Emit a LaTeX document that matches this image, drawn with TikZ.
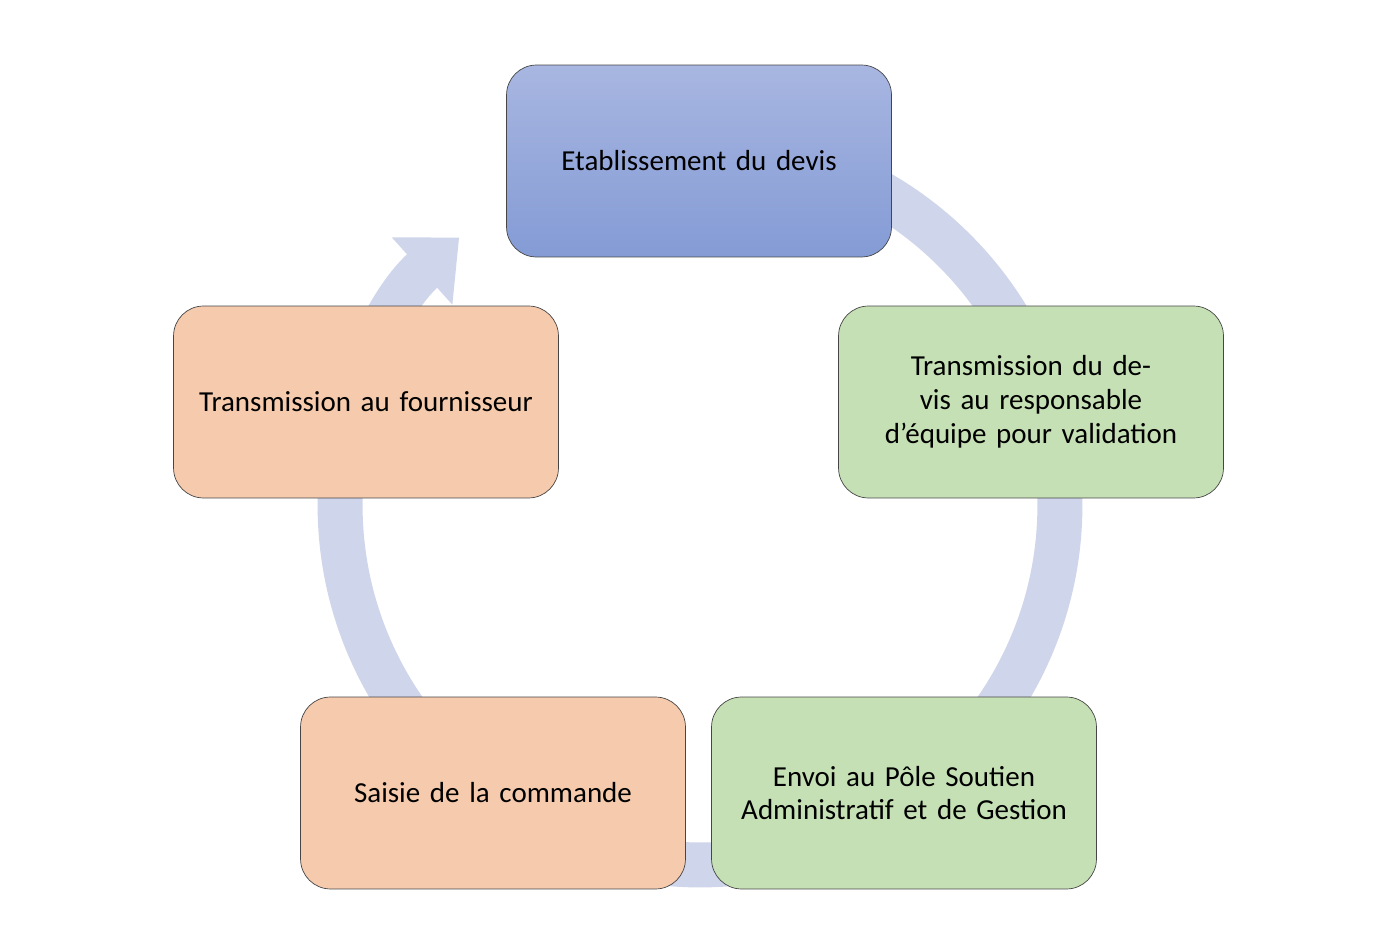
\documentclass[tikz,border=0pt]{standalone}
\usepackage{fontspec}
\setmainfont{Carlito}
\usetikzlibrary{arrows.meta}
\definecolor{ringfill}{RGB}{207, 213, 234}
\definecolor{topfilla}{RGB}{168, 182, 225}
\definecolor{topfillb}{RGB}{132, 155, 213}
\definecolor{greenfill}{RGB}{197, 224, 180}
\definecolor{orangefill}{RGB}{246, 202, 172}
\definecolor{boxline}{RGB}{70, 70, 70}
\tikzset{
    x=0.02cm, y=-0.02cm,
    stepbox/.style={draw=boxline, rounded corners=0.6cm, minimum width=7.7cm,
        minimum height=3.84cm, align=center, text width=7.3cm,
        font=\fontsize{16.5}{19.2}\selectfont},
}
\begin{document}
\begin{tikzpicture}
        \useasboundingbox (0, 0) rectangle (1383, 952);
        \coordinate (mid) at (700, 505);
        \draw[ringfill, line width=0.9cm,
            -{Triangle[width=1.75cm, length=1cm]}]
            (mid) ++(90:7.2cm) arc[start angle=90, end angle=-228, radius=7.2cm];
        \node[stepbox, top color=topfilla, bottom color=topfillb] (devis)
            at (699, 161) {Etablissement du devis};
        \node[stepbox, fill=greenfill] (valid) at (1031, 402)
            {Transmission du devis au responsable d’équipe pour validation};
        \node[stepbox, fill=greenfill] (envoi) at (904, 793)
            {Envoi au Pôle Soutien Administratif et de Gestion};
        \node[stepbox, fill=orangefill] (saisie) at (493, 793)
            {Saisie de la commande};
        \node[stepbox, fill=orangefill] (fourn) at (366, 402)
            {Transmission au fournisseur};
    \end{tikzpicture}
\end{document}
